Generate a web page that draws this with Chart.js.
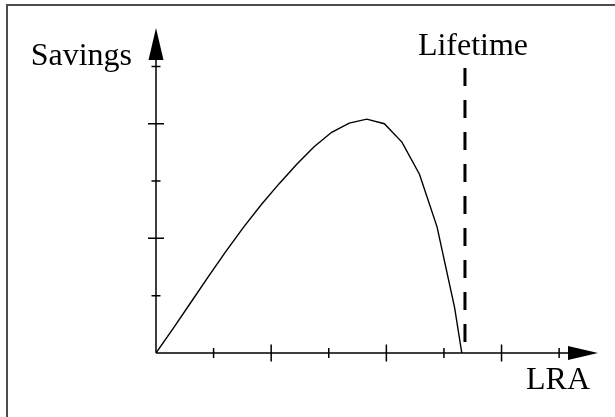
<!DOCTYPE html>
<html>
<head>
<meta charset="utf-8">
<title>Savings vs LRA</title>
<script src="https://cdn.jsdelivr.net/npm/chart.js@4/dist/chart.umd.min.js"></script>
<style>
    body { margin: 0; background: #fff; }
    .wrap { position: relative; width: 615px; height: 417px; overflow: hidden; }
    .frame { position: absolute; left: 6px; top: 4px; right: -10px; bottom: -10px; border-left: 2px solid #4d4d4d; border-top: 2px solid #4d4d4d; }
    #savingsChart { position: absolute; left: 0; top: 0; }
</style>
</head>
<body>
<div class="wrap">
    <div class="frame"></div>
    <canvas id="savingsChart" width="615" height="417"></canvas>
</div>
<script>
// Savings curve over LRA (axis units = tick spacing)
const lraValues = [0, 0.305, 0.61, 0.915, 1.22, 1.525, 1.83, 2.135, 2.44, 2.745, 3.05, 3.355, 3.66, 3.965, 4.27, 4.575, 4.88, 5.185, 5.31];
const savingsValues = [0, 0.44, 0.89, 1.34, 1.78, 2.2, 2.59, 2.95, 3.29, 3.6, 3.85, 4.01, 4.08, 4.0, 3.68, 3.12, 2.2, 0.79, 0];

// Lifetime marker
const lifetimeX = [5.365, 5.365];
const lifetimeY = [4.97, 0];

// Axis ticks
const xTicks = [1, 2, 3, 4, 5, 6, 7];
const xMajorTicks = [2, 4, 6];
const yTicks = [1, 2, 3, 4, 5];
const yMajorTicks = [2, 4];
const xMax = 7.675;
const yMax = 5.67;

// Labels
const yLabel = 'Savings';
const xLabel = 'LRA';
const lifetimeLabel = 'Lifetime';

document.addEventListener('DOMContentLoaded', function() {
    drawSavingsChart();
});

// Draws the arrowed axes, ticks and labels
const axesPlugin = {
    id: 'arrowAxes',
    afterDatasetsDraw(chart) {
        const ctx = chart.ctx;
        const x = chart.scales.x;
        const y = chart.scales.y;
        const x0 = x.getPixelForValue(0);
        const y0 = y.getPixelForValue(0);
        const xEnd = x.getPixelForValue(xMax);
        const yEnd = y.getPixelForValue(yMax);

        ctx.save();
        ctx.strokeStyle = '#000';
        ctx.fillStyle = '#000';
        ctx.lineWidth = 1.5;

        // axis lines
        ctx.beginPath();
        ctx.moveTo(x0, y0);
        ctx.lineTo(xEnd - 20, y0);
        ctx.moveTo(x0, y0);
        ctx.lineTo(x0, yEnd + 20);
        ctx.stroke();

        // arrow heads
        ctx.beginPath();
        ctx.moveTo(xEnd, y0);
        ctx.lineTo(xEnd - 30, y0 - 7);
        ctx.lineTo(xEnd - 30, y0 + 7);
        ctx.closePath();
        ctx.fill();
        ctx.beginPath();
        ctx.moveTo(x0, yEnd);
        ctx.lineTo(x0 - 7.5, yEnd + 32);
        ctx.lineTo(x0 + 7.5, yEnd + 32);
        ctx.closePath();
        ctx.fill();

        // ticks
        ctx.beginPath();
        xTicks.forEach(t => {
            const px = x.getPixelForValue(t);
            const h = xMajorTicks.includes(t) ? 8.5 : 5;
            ctx.moveTo(px, y0 - h);
            ctx.lineTo(px, y0 + h);
        });
        yTicks.forEach(t => {
            const py = y.getPixelForValue(t);
            const w = yMajorTicks.includes(t) ? 8 : 4.5;
            ctx.moveTo(x0 - w, py);
            ctx.lineTo(x0 + w, py);
        });
        ctx.stroke();

        // labels
        ctx.font = '32px "Liberation Serif", "Times New Roman", serif';
        ctx.textBaseline = 'alphabetic';
        ctx.textAlign = 'right';
        ctx.fillText(yLabel, x0 - 24, 65);
        ctx.textAlign = 'left';
        ctx.fillText(xLabel, xEnd - 72, y0 + 36);
        ctx.textAlign = 'center';
        ctx.fillText(lifetimeLabel, x.getPixelForValue(lifetimeX[0]) + 8, 55);
        ctx.restore();
    }
};

function drawSavingsChart() {
    const canvas = document.getElementById('savingsChart');
    if(!canvas || typeof Chart === 'undefined') return;

    new Chart(canvas, {
        type: 'scatter',
        data: {
            datasets: [{
                label: 'Savings',
                data: lraValues.map((v, i) => ({ x: v, y: savingsValues[i] })),
                showLine: true,
                borderColor: '#000',
                borderWidth: 1.4,
                pointRadius: 0,
                tension: 0
            }, {
                label: 'Lifetime',
                data: lifetimeX.map((v, i) => ({ x: v, y: lifetimeY[i] })),
                showLine: true,
                borderColor: '#000',
                borderWidth: 3,
                borderDash: [18, 14],
                pointRadius: 0
            }]
        },
        options: {
            responsive: false,
            animation: false,
            layout: { padding: { left: 156, right: 17, top: 28, bottom: 64 } },
            plugins: {
                legend: { display: false },
                tooltip: { enabled: false }
            },
            scales: {
                x: { type: 'linear', min: 0, max: xMax, display: false },
                y: { type: 'linear', min: 0, max: yMax, display: false }
            }
        },
        plugins: [axesPlugin]
    });
}
</script>
</body>
</html>
